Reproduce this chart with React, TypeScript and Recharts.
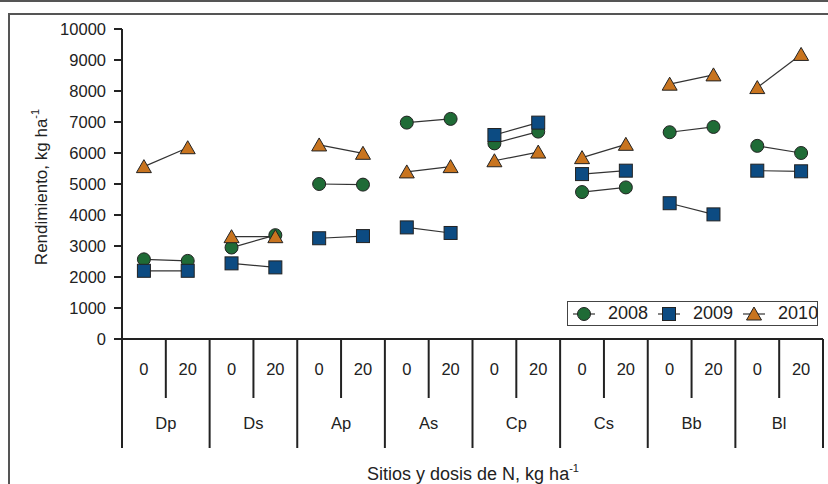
import { LineChart, Line, XAxis, YAxis, Label } from 'recharts';

const sites = ['Dp', 'Ds', 'Ap', 'As', 'Cp', 'Cs', 'Bb', 'Bl'];
const doses = ['0', '20'];
const years = ['2008', '2009', '2010'];

// two values per site: dose 0, dose 20
const yield2008 = [2570, 2520, 2950, 3350, 5000, 4980, 6980, 7100, 6310, 6690, 4740, 4890, 6670, 6840, 6230, 6000];
const yield2009 = [2200, 2200, 2440, 2310, 3250, 3320, 3600, 3420, 6580, 6980, 5320, 5430, 4380, 4020, 5430, 5410];
const yield2010 = [5560, 6170, 3300, 3300, 6260, 5990, 5390, 5560, 5750, 6030, 5850, 6280, 8220, 8520, 8110, 9180];

const yTicks = [0, 1000, 2000, 3000, 4000, 5000, 6000, 7000, 8000, 9000, 10000];

const seriesValues: Record<string, number[]> = { '2008': yield2008, '2009': yield2009, '2010': yield2010 };
const seriesColor: Record<string, string> = { '2008': '#1f6b36', '2009': '#0c4b82', '2010': '#c8741f' };
const seriesShape: Record<string, string> = { '2008': 'circle', '2009': 'square', '2010': 'triangle' };

// one key per year and site so each pair is its own short segment
const rows = sites.flatMap((site, s) =>
  doses.map((dose, d) => {
    const i = s * 2 + d;
    const row: Record<string, any> = { col: i, site, dose };
    years.forEach((yr) => {
      row[`${yr}_${site}`] = seriesValues[yr][i];
    });
    return row;
  })
);

const FONT = '"Liberation Sans", Arial, sans-serif';
const INK = '#222';
const PLOT_LEFT = 122;
const PLOT_RIGHT = 823;
const COL_W = (PLOT_RIGHT - PLOT_LEFT) / rows.length;

const Marker = ({ shape, color, cx, cy }: { shape: string; color: string; cx: number; cy: number }) => {
  if (shape === 'circle') {
    return <circle cx={cx} cy={cy} r={6.5} fill={color} stroke={INK} strokeWidth={1} />;
  }
  if (shape === 'square') {
    return <rect x={cx - 6.5} y={cy - 6.5} width={13} height={13} fill={color} stroke={INK} strokeWidth={1} />;
  }
  return (
    <polygon
      points={`${cx},${cy - 7} ${cx + 7.5},${cy + 6} ${cx - 7.5},${cy + 6}`}
      fill={color}
      stroke={INK}
      strokeWidth={1}
    />
  );
};

const makeDot = (yr: string) => (props: any) => {
  const { cx, cy, value, key } = props;
  if (value == null || cx == null || cy == null) return <g key={key} />;
  return <Marker key={key} shape={seriesShape[yr]} color={seriesColor[yr]} cx={cx} cy={cy} />;
};

const SiteTick = (props: any) => {
  const { x, y, payload } = props;
  const i = payload.value as number;
  const row = rows[i];
  const left = x - COL_W / 2;
  const right = x + COL_W / 2;
  const first = i % 2 === 0;
  return (
    <g>
      <text x={x} y={y + 30} textAnchor="middle" dominantBaseline="central" fontSize={16.5} fill={INK} fontFamily={FONT}>
        {row.dose}
      </text>
      <line x1={left} x2={left} y1={y} y2={y + (first ? 109 : 59)} stroke={INK} strokeWidth={2} />
      {!first && (
        <text x={left} y={y + 84} textAnchor="middle" dominantBaseline="central" fontSize={16.5} fill={INK} fontFamily={FONT}>
          {row.site}
        </text>
      )}
      {i === rows.length - 1 && <line x1={right} x2={right} y1={y} y2={y + 109} stroke={INK} strokeWidth={2} />}
    </g>
  );
};

const LegendBox = () => (
  <div
    style={{
      position: 'absolute',
      left: 567,
      top: 301,
      display: 'flex',
      alignItems: 'center',
      border: '1px solid #444',
      background: '#fff',
      height: 25,
      width: 251,
      boxSizing: 'border-box',
      paddingLeft: 5,
      fontFamily: FONT,
      fontSize: 18,
      color: INK,
    }}
  >
    {years.map((yr) => (
      <div key={yr} style={{ display: 'flex', alignItems: 'center', marginRight: 10 }}>
        <svg width={22} height={16} style={{ marginRight: 13 }}>
          <line x1={0} x2={22} y1={8} y2={8} stroke="#333" strokeWidth={1.2} />
          <Marker shape={seriesShape[yr]} color={seriesColor[yr]} cx={11} cy={8} />
        </svg>
        <span>{yr}</span>
      </div>
    ))}
  </div>
);

const YTitle = () => (
  <text
    x={41}
    y={187}
    transform="rotate(-90 41 187)"
    textAnchor="middle"
    dominantBaseline="central"
    fontSize={17}
    fill={INK}
    fontFamily={FONT}
  >
    Rendimiento, kg ha<tspan fontSize={11} dy={-6}>-1</tspan>
  </text>
);

const XTitle = () => (
  <text x={473} y={474} textAnchor="middle" dominantBaseline="central" fontSize={18} fill={INK} fontFamily={FONT}>
    Sitios y dosis de N, kg ha<tspan fontSize={11} dy={-6}>-1</tspan>
  </text>
);

export default function App() {
  return (
    <div style={{ position: 'absolute', left: 0, top: 0, width: 828, height: 484, background: '#fff', overflow: 'hidden' }}>
      <div style={{ position: 'absolute', left: 0, top: 0, width: 828, height: 2, background: '#555' }} />
      <div
        style={{
          position: 'absolute',
          left: 8,
          top: 13,
          width: 830,
          height: 480,
          borderLeft: '2px solid #555',
          borderTop: '2px solid #555',
        }}
      />
      <div style={{ position: 'absolute', left: 0, top: 0 }}>
        <LineChart width={828} height={484} data={rows} margin={{ top: 29, right: 828 - PLOT_RIGHT, bottom: 0, left: 0 }}>
          <XAxis
            dataKey="col"
            type="category"
            height={145}
            padding={{ left: COL_W / 2, right: COL_W / 2 }}
            tick={<SiteTick />}
            tickLine={false}
            tickSize={0}
            tickMargin={0}
            interval={0}
            axisLine={{ stroke: INK, strokeWidth: 2 }}
          >
            <Label content={<XTitle />} />
          </XAxis>
          <YAxis
            width={PLOT_LEFT}
            domain={[0, 10000]}
            ticks={yTicks}
            interval={0}
            tickSize={8}
            tickMargin={8}
            tick={{ fontSize: 16.5, fill: INK, fontFamily: FONT }}
            tickLine={{ stroke: INK, strokeWidth: 2 }}
            axisLine={{ stroke: INK, strokeWidth: 2 }}
          >
            <Label content={<YTitle />} />
          </YAxis>
          {years.map((yr) =>
            sites.map((site) => (
              <Line
                key={`${yr}_${site}`}
                dataKey={`${yr}_${site}`}
                stroke="#333"
                strokeWidth={1.2}
                dot={makeDot(yr)}
                activeDot={false}
                legendType="none"
                isAnimationActive={false}
              />
            ))
          )}
        </LineChart>
      </div>
      <LegendBox />
    </div>
  );
}
